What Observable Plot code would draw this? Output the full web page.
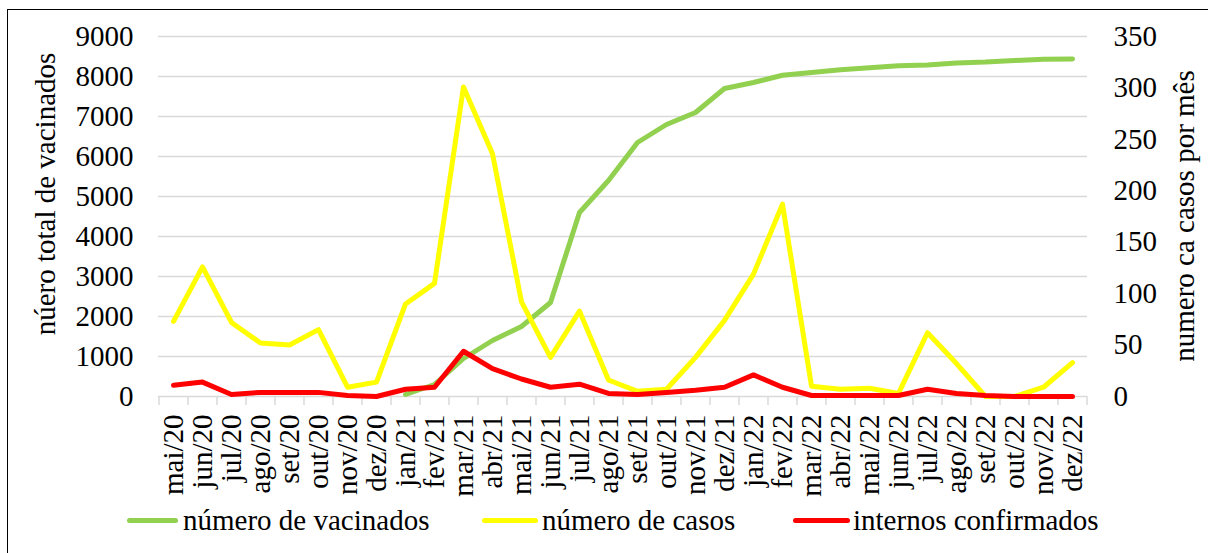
<!DOCTYPE html>
<html>
<head>
<meta charset="utf-8">
<script src="https://cdn.jsdelivr.net/npm/d3@7"></script>
<script src="https://cdn.jsdelivr.net/npm/@observablehq/plot@0.6"></script>
<style>
  html, body { margin: 0; padding: 0; background: #fff; }
  #wrap { position: relative; width: 1208px; height: 553px; overflow: hidden; font-family: "Liberation Serif", "Times New Roman", serif; color: #000; }
  #frame { position: absolute; left: 7px; top: 9px; width: 1220px; height: 600px; border: 1.5px solid #000; box-sizing: border-box; }
  #chart { position: absolute; left: 0; top: 0; }
  .ytitle { position: absolute; font-size: 29px; white-space: nowrap; line-height: 1; transform: translate(-50%, -50%) rotate(-90deg); }
  .leg { position: absolute; font-size: 29px; line-height: 29px; white-space: nowrap; top: 506px; }
  .sw { position: absolute; height: 5px; border-radius: 3px; top: 518px; }
</style>
</head>
<body>
<div id="wrap">
  <div id="frame"></div>
  <div id="chart"></div>
  <div class="ytitle" id="ltitle" style="left:45px; top:194px;"></div>
  <div class="ytitle" id="rtitle" style="left:1184px; top:216px;"></div>
  <div id="legend"></div>
</div>
<script>
const months = ["mai/20","jun/20","jul/20","ago/20","set/20","out/20","nov/20","dez/20",
  "jan/21","fev/21","mar/21","abr/21","mai/21","jun/21","jul/21","ago/21","set/21","out/21","nov/21","dez/21",
  "jan/22","fev/22","mar/22","abr/22","mai/22","jun/22","jul/22","ago/22","set/22","out/22","nov/22","dez/22"];

// número de vacinados (left axis, cumulative)
const vacinados = [null,null,null,null,null,null,null,null,
  50,300,950,1400,1750,2350,4600,5400,6350,6800,7100,7700,
  7850,8030,8100,8170,8220,8270,8290,8340,8360,8400,8430,8440];

// número de casos (right axis, per month)
const casos = [73,126,72,52,50,65,9,14,
  90,110,301,236,92,38,83,16,5,7,38,74,
  119,187,10,7,8,3,62,32,0,0,9,33];

// internos confirmados (right axis, per month)
const internos = [11,14,2,4,4,4,1,0,
  7,9,44,27,17,9,12,3,2,4,6,9,
  21,9,1,1,1,1,7,3,1,0,0,0];

const leftTicks = [0,1000,2000,3000,4000,5000,6000,7000,8000,9000];
const rightTicks = [0,50,100,150,200,250,300,350];

const leftTitle = "núero total de vacinados";
const rightTitle = "numero ca casos por mês";
const seriesNames = ["número de vacinados", "número de casos", "internos confirmados"];
const seriesColors = ["#92d050", "#ffff00", "#ff0000"];

const leftMax = 9000, rightMax = 350;
const k = leftMax / rightMax;

const rows = months.map((m, i) => ({
  m,
  vac: vacinados[i],
  cas: casos[i] == null ? null : casos[i] * k,
  int: internos[i] == null ? null : internos[i] * k
}));

const W = 1208, H = 500, mL = 158, mR = 121, mT = 36, mB = 104;
const step = (W - mL - mR) / months.length;

const chart = Plot.plot({
  width: W, height: H,
  marginLeft: mL, marginRight: mR, marginTop: mT, marginBottom: mB,
  style: { fontFamily: "Liberation Serif, Times New Roman, serif", fontSize: "29px", color: "#000", background: "transparent", overflow: "visible" },
  x: { type: "point", domain: months, padding: 0.5 },
  y: { domain: [0, leftMax] },
  marks: [
    Plot.gridY(leftTicks, { stroke: "#d9d9d9", strokeOpacity: 1, strokeWidth: 1.5 }),
    Plot.ruleX(months, { x: d => d, y1: 0, y2: 0, insetBottom: -9, dx: -step / 2, stroke: "#d9d9d9", strokeWidth: 1.5 }),
    Plot.ruleX(months.slice(-1), { x: d => d, y1: 0, y2: 0, insetBottom: -9, dx: step / 2, stroke: "#d9d9d9", strokeWidth: 1.5 }),
    Plot.axisY(leftTicks, { anchor: "left", tickSize: 0, tickPadding: 25, label: null, fontSize: 29, tickFormat: d => String(d) }),
    Plot.axisY(rightTicks.map(v => v * k), { anchor: "right", tickSize: 0, tickPadding: 26, label: null, fontSize: 29, tickFormat: d => String(Math.round(d / k)) }),
    Plot.axisX({ tickRotate: -90, tickSize: 0, tickPadding: 18, label: null, fontSize: 29 }),
    Plot.line(rows, { x: "m", y: "vac", stroke: seriesColors[0], strokeWidth: 5, strokeLinejoin: "round", strokeLinecap: "round" }),
    Plot.line(rows, { x: "m", y: "cas", stroke: seriesColors[1], strokeWidth: 5, strokeLinejoin: "round", strokeLinecap: "round" }),
    Plot.line(rows, { x: "m", y: "int", stroke: seriesColors[2], strokeWidth: 5, strokeLinejoin: "round", strokeLinecap: "round" })
  ]
});
document.getElementById("chart").appendChild(chart);
document.getElementById("ltitle").textContent = leftTitle;
document.getElementById("rtitle").textContent = rightTitle;

const legPos = [[127, 178, 183], [482, 538, 542], [793, 850, 853]];
const legend = document.getElementById("legend");
seriesNames.forEach((name, i) => {
  const [x0, x1, tx] = legPos[i];
  const sw = document.createElement("div");
  sw.className = "sw";
  sw.style.left = x0 + "px";
  sw.style.width = (x1 - x0) + "px";
  sw.style.background = seriesColors[i];
  legend.appendChild(sw);
  const t = document.createElement("div");
  t.className = "leg";
  t.style.left = tx + "px";
  t.textContent = name;
  legend.appendChild(t);
});
</script>
</body>
</html>
